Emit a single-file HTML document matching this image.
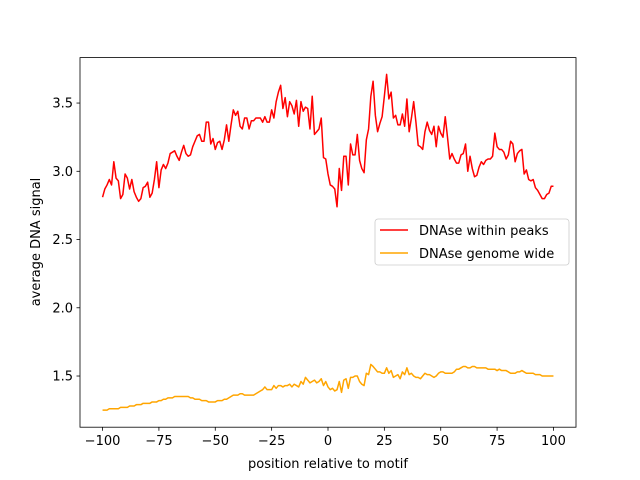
<!DOCTYPE html>
<html><head><meta charset="utf-8"><style>
body{margin:0;background:#fff}
svg{display:block;font-family:"DejaVu Sans","Liberation Sans",sans-serif}
</style></head><body>
<svg id="chart" width="640" height="480">
<rect x="0" y="0" width="640" height="480" fill="#fff"/>
<g id="lines"></g>
<rect x="80" y="57.6" width="496" height="369.6" fill="none" stroke="#000" stroke-width="0.8"/>
<g id="xticks"></g>
<g id="yticks"></g>
<text x="328" y="468" font-size="13" text-anchor="middle">position relative to motif</text>
<text transform="translate(40,242) rotate(-90)" font-size="13" text-anchor="middle">average DNA signal</text>
<g>
<rect x="375" y="219" width="194" height="46" rx="3" fill="#fff" fill-opacity="0.8" stroke="#ccc" stroke-width="0.8"/>
<g>
<line x1="380" y1="230" x2="408" y2="230" stroke="#ff0000" stroke-width="1.5"/>
<text x="419" y="235" font-size="13">DNAse within peaks</text>
</g>
<g>
<line x1="380" y1="253" x2="408" y2="253" stroke="#ffa500" stroke-width="1.5"/>
<text x="419" y="258" font-size="13">DNAse genome wide</text>
</g>
</g>
</svg>
<script>
const xTicks = [-100, -75, -50, -25, 0, 25, 50, 75, 100];
const yTicks = [1.5, 2.0, 2.5, 3.0, 3.5];
const yTickLabels = ["1.5", "2.0", "2.5", "3.0", "3.5"];
const xStart = -100;
const peaks = [2.81,2.87,2.90,2.94,2.90,3.07,2.95,2.93,2.80,2.83,
2.98,2.95,2.87,2.94,2.85,2.81,2.78,2.80,2.88,2.89,
2.92,2.81,2.84,2.94,3.07,2.88,3.01,3.05,3.02,3.06,
3.13,3.14,3.15,3.11,3.08,3.14,3.19,3.13,3.11,3.12,
3.18,3.22,3.26,3.27,3.22,3.22,3.36,3.36,3.20,3.24,
3.16,3.21,3.22,3.16,3.23,3.34,3.22,3.34,3.45,3.41,
3.44,3.33,3.31,3.39,3.39,3.31,3.37,3.37,3.39,3.39,
3.39,3.36,3.40,3.36,3.36,3.45,3.39,3.51,3.58,3.63,
3.46,3.54,3.40,3.51,3.48,3.42,3.52,3.33,3.51,3.44,
3.47,3.46,3.31,3.55,3.27,3.29,3.31,3.39,3.10,3.09,
2.98,2.90,2.89,2.87,2.74,3.02,2.86,3.11,3.11,2.90,
3.20,3.12,3.12,3.27,3.08,3.02,2.99,3.23,3.31,3.55,
3.66,3.41,3.29,3.35,3.40,3.55,3.71,3.53,3.58,3.39,
3.41,3.34,3.34,3.42,3.33,3.53,3.29,3.39,3.51,3.36,
3.19,3.18,3.16,3.29,3.36,3.30,3.27,3.33,3.18,3.33,
3.28,3.25,3.40,3.25,3.09,3.13,3.09,3.06,3.06,3.12,
3.13,3.20,3.00,3.11,3.02,2.96,2.97,3.03,3.07,3.05,
3.08,3.09,3.09,3.11,3.28,3.18,3.16,3.16,3.14,3.09,
3.12,3.22,3.20,3.07,3.13,3.15,3.16,2.98,3.01,2.94,
2.93,2.94,2.88,2.86,2.83,2.80,2.80,2.83,2.84,2.89,
2.89];
const genome = [1.25,1.25,1.25,1.26,1.26,1.26,1.26,1.26,1.27,1.27,
1.27,1.27,1.28,1.28,1.28,1.29,1.29,1.29,1.30,1.30,
1.30,1.30,1.31,1.31,1.31,1.32,1.32,1.33,1.33,1.34,
1.34,1.34,1.35,1.35,1.35,1.35,1.35,1.35,1.35,1.34,
1.34,1.33,1.33,1.33,1.32,1.32,1.32,1.31,1.31,1.31,
1.31,1.32,1.32,1.32,1.33,1.33,1.34,1.35,1.36,1.36,
1.36,1.37,1.37,1.36,1.36,1.36,1.36,1.36,1.37,1.38,
1.39,1.40,1.42,1.40,1.40,1.40,1.43,1.41,1.43,1.43,
1.42,1.43,1.43,1.44,1.42,1.44,1.43,1.42,1.46,1.44,
1.49,1.47,1.45,1.46,1.47,1.45,1.46,1.48,1.43,1.46,
1.42,1.40,1.41,1.39,1.40,1.46,1.38,1.47,1.48,1.41,
1.49,1.49,1.50,1.50,1.46,1.44,1.43,1.52,1.51,1.585,
1.57,1.55,1.53,1.53,1.52,1.52,1.56,1.52,1.54,1.49,
1.50,1.51,1.48,1.53,1.51,1.56,1.51,1.52,1.50,1.49,
1.49,1.48,1.50,1.52,1.51,1.51,1.50,1.49,1.50,1.52,
1.53,1.53,1.52,1.52,1.52,1.52,1.53,1.55,1.55,1.56,
1.57,1.57,1.56,1.56,1.57,1.57,1.56,1.56,1.56,1.56,
1.56,1.55,1.55,1.55,1.55,1.54,1.55,1.54,1.54,1.54,
1.53,1.52,1.52,1.52,1.53,1.53,1.54,1.53,1.52,1.52,
1.52,1.52,1.51,1.51,1.51,1.50,1.50,1.50,1.50,1.50,
1.50];

const X0=80,X1=576,Y0=427.2,Y1=57.6;
const xMin=-110,xMax=110,yMin=1.125,yMax=3.833;
function sx(v){return X0+(v-xMin)/(xMax-xMin)*(X1-X0);}
function sy(v){return Y0-(v-yMin)/(yMax-yMin)*(Y0-Y1);}
const NS="http://www.w3.org/2000/svg";
const lines=document.getElementById('lines');
function drawSeries(vals,color,name){
  const p=document.createElementNS(NS,'polyline');
  p.setAttribute('points',vals.map((v,i)=>sx(xStart+i).toFixed(2)+','+sy(v).toFixed(2)).join(' '));
  p.setAttribute('fill','none');
  p.setAttribute('stroke',color);
  p.setAttribute('stroke-width','1.5');
  p.setAttribute('stroke-linejoin','round');
  
  
  lines.appendChild(p);
}
drawSeries(peaks,'#ff0000','series-dnase-within-peaks');
drawSeries(genome,'#ffa500','series-dnase-genome-wide');

const xg=document.getElementById('xticks');
xTicks.forEach(t=>{
  const x=sx(t);
  const l=document.createElementNS(NS,'line');
  l.setAttribute('x1',x);l.setAttribute('x2',x);l.setAttribute('y1',Y0);l.setAttribute('y2',Y0+3.5);
  l.setAttribute('stroke','#000');l.setAttribute('stroke-width','0.8');
  
  
  xg.appendChild(l);
  const tx=document.createElementNS(NS,'text');
  tx.setAttribute('x',x);tx.setAttribute('y',Y0+18);
  tx.setAttribute('font-size','13');tx.setAttribute('text-anchor','middle');
  tx.textContent=(t<0?'\u2212'+(-t):String(t));
  
  
  xg.appendChild(tx);
});
const yg=document.getElementById('yticks');
yTicks.forEach((t,i)=>{
  const y=sy(t);
  const l=document.createElementNS(NS,'line');
  l.setAttribute('x1',X0-3.5);l.setAttribute('x2',X0);l.setAttribute('y1',y);l.setAttribute('y2',y);
  l.setAttribute('stroke','#000');l.setAttribute('stroke-width','0.8');
  
  
  yg.appendChild(l);
  const tx=document.createElementNS(NS,'text');
  tx.setAttribute('x',X0-7);tx.setAttribute('y',y+4.5);
  tx.setAttribute('font-size','13');tx.setAttribute('text-anchor','end');
  tx.textContent=yTickLabels[i];
  
  
  yg.appendChild(tx);
});
</script>
</body></html>
